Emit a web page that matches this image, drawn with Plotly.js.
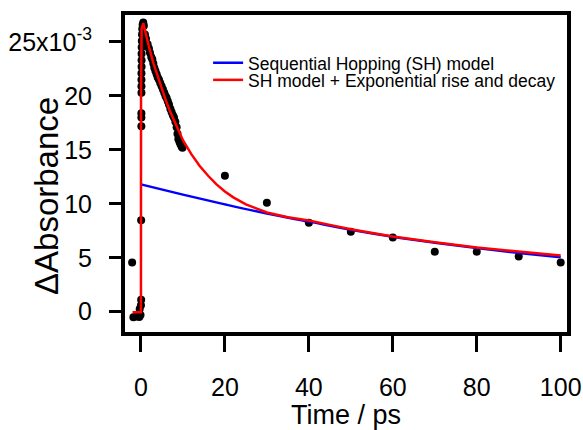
<!DOCTYPE html>
<html>
<head>
<meta charset="utf-8">
<script src="https://cdn.plot.ly/plotly-3.0.1.min.js"></script>
<style>html,body{margin:0;padding:0;background:#fff;}#chart{width:583px;height:430px;}</style>
</head>
<body>
<div id="chart"></div>
<script>
// Measured data (time in ps, absorbance in units of 1e-3)
var dataTime = [-2.1,-1.8,-1.2,-0.8,-0.4,-0.3,-0.1,0.0,0.05,0.05,
  0.1,0.1,0.1,0.12,0.12,0.12,0.12,0.15,0.15,0.15,0.18,0.2,0.25,0.3,0.4,0.55,0.7,
  0.95,1.2,1.59,1.9,2.15,2.45,2.7,2.95,3.18,3.45,3.74,4.0,4.3,4.6,4.93,5.25,5.56,5.85,6.12,6.4,6.68,7.0,7.3,7.6,7.87,8.2,8.5,8.7,8.9,9.2,9.45,9.7,9.9,
  20,30,40,50,60,70,80,90,100];
var dataAbs = [4.57,-0.52,-0.45,-0.35,-0.5,0.25,-0.3,0.6,1.1,8.47,
  17.2,18.0,18.4,20.3,20.9,21.5,22.1,22.7,23.3,23.9,24.5,25.1,25.7,26.2,26.6,26.8,26.5,
  25.7,25.3,24.8,24.4,24.0,23.6,23.4,23.0,22.6,22.3,22.0,21.7,21.5,21.2,20.9,20.6,20.3,20.0,19.8,19.5,19.2,18.8,18.5,18.2,18.0,17.6,17.1,16.5,16.0,15.7,15.5,15.3,15.2,
  12.6,10.1,8.25,7.4,6.87,5.55,5.55,5.12,4.57];

// Sequential Hopping (SH) model curve
var shTime = [0,10,20,30,40,50,60,70,80,90,100];
var shAbs  = [11.8,10.85,9.95,9.1,8.35,7.6,6.95,6.4,5.9,5.45,5.05];

// SH model + exponential rise and decay
var fitTime = [-2,0,0.02,0.15,0.55,1,2,3,4,5,6,7,8,9,10,12,14,16,18,20,22,25,30,35,40,45,50,60,70,80,90,100];
var fitAbs  = [-0.06,-0.06,20,26.2,26.75,26.0,24.4,23.0,21.8,20.6,19.5,18.5,17.6,16.7,15.9,14.6,13.5,12.6,11.8,11.15,10.6,9.95,9.2,8.75,8.45,8.05,7.65,6.98,6.43,5.95,5.55,5.2];

var xTicks = [0,20,40,60,80,100];
var yTicks = [0,5,10,15,20,25];
var yTickText = ['0','5','10','15','20','25x10<sup>-3</sup>'];

var FONT = 'Liberation Sans, Arial, sans-serif';

var traces = [
  {x: dataTime, y: dataAbs, mode: 'markers', type: 'scatter', showlegend: false,
   marker: {color: '#000', size: 8}},
  {x: shTime, y: shAbs, mode: 'lines', type: 'scatter', name: 'Sequential Hopping (SH) model',
   line: {color: '#0000ff', width: 2.5, shape: 'spline'}, legend: 'legend'},
  {x: fitTime, y: fitAbs, mode: 'lines', type: 'scatter', name: 'SH model + Exponential rise and decay',
   line: {color: '#ff0000', width: 2.5}, legend: 'legend2'}
];

var layout = {
  width: 583, height: 430,
  margin: {l: 125, r: 16, t: 15, b: 98, pad: 0},
  paper_bgcolor: '#fff', plot_bgcolor: '#fff',
  font: {family: FONT, color: '#000'},
  showlegend: true,
  xaxis: {
    range: [-3.8, 101.5], tickvals: xTicks, showgrid: false, zeroline: false,
    showline: true, linewidth: 4, linecolor: '#000', mirror: true,
    ticks: 'outside', ticklen: 16, tickwidth: 3, tickcolor: '#000',
    ticklabelstandoff: 14,
    tickfont: {size: 25, family: FONT, color: '#000'},
    title: {text: 'Time / ps', font: {size: 27, family: FONT, color: '#000'}, standoff: 6}
  },
  yaxis: {
    range: [-1.88, 27.5], tickvals: yTicks, ticktext: yTickText, showgrid: false, zeroline: false,
    showline: true, linewidth: 4, linecolor: '#000', mirror: true,
    ticks: 'outside', ticklen: 12, tickwidth: 3, tickcolor: '#000',
    ticklabelstandoff: 12,
    tickfont: {size: 25, family: FONT, color: '#000'}
  },
  annotations: [{
    text: '\u0394Absorbance', xref: 'paper', yref: 'paper', x: -0.178, y: 0.43,
    xanchor: 'center', yanchor: 'middle', textangle: -90, showarrow: false,
    font: {size: 33, family: FONT, color: '#000'}
  }],
  legend: {x: 0.188, y: 0.849, xanchor: 'left', yanchor: 'middle', bgcolor: 'rgba(0,0,0,0)',
           font: {size: 17.5, family: FONT, color: '#000'}, borderwidth: 0},
  legend2: {x: 0.188, y: 0.795, xanchor: 'left', yanchor: 'middle', bgcolor: 'rgba(0,0,0,0)',
           font: {size: 17.5, family: FONT, color: '#000'}, borderwidth: 0}
};

Plotly.newPlot('chart', traces, layout, {displayModeBar: false, staticPlot: true});
</script>
</body>
</html>
